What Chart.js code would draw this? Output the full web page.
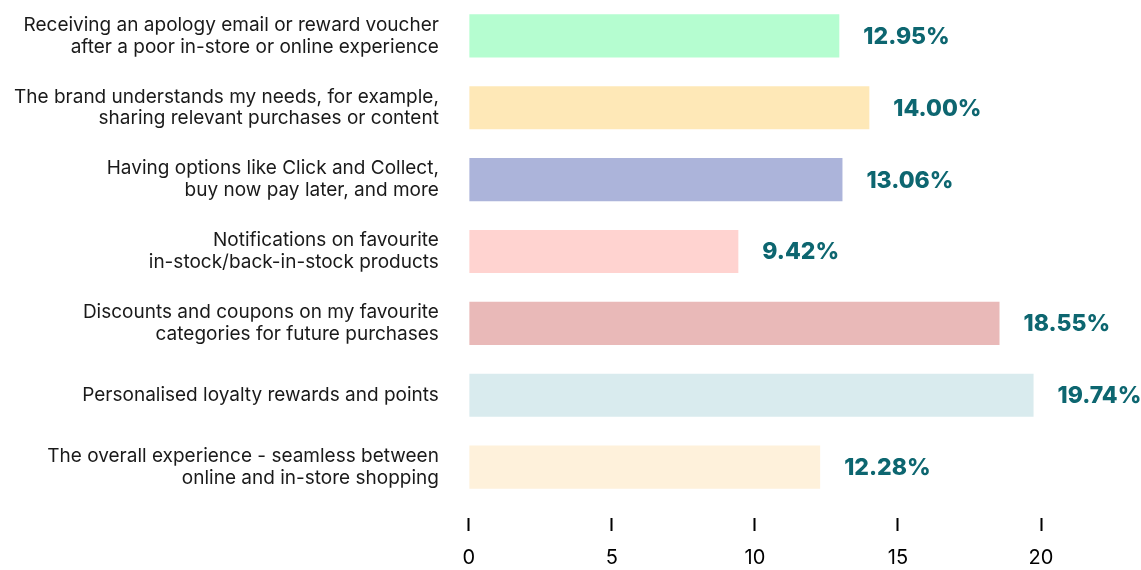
<!DOCTYPE html>
<html>
<head>
<meta charset="utf-8">
<script src="https://cdn.jsdelivr.net/npm/chart.js@4/dist/chart.umd.min.js"></script>
<style>
  html, body { margin: 0; padding: 0; background: #fff; }
  #wrap { width: 1141px; height: 570px; }
</style>
</head>
<body>
<div id="wrap"><canvas id="bar-chart"></canvas></div>
<script>
var labels = [
  ["Receiving an apology email or reward voucher", "after a poor in-store or online experience"],
  ["The brand understands my needs, for example,", "sharing relevant purchases or content"],
  ["Having options like Click and Collect,", "buy now pay later, and more"],
  ["Notifications on favourite", "in-stock/back-in-stock products"],
  ["Discounts and coupons on my favourite", "categories for future purchases"],
  "Personalised loyalty rewards and points",
  ["The overall experience - seamless between", "online and in-store shopping"]
];
var values = [12.95, 14.00, 13.06, 9.42, 18.55, 19.74, 12.28];
var barColors = ["#b5fdd0", "#fee8b7", "#acb4da", "#ffd3d0", "#e9b9b8", "#d9ebee", "#fef1db"];
var tickValues = [0, 5, 10, 15, 20];

// value labels at the end of each bar
var valueLabels = {
  id: 'valueLabels',
  afterDatasetsDraw: function(chart) {
    var ctx = chart.ctx;
    var meta = chart.getDatasetMeta(0);
    ctx.save();
    ctx.font = "800 23px Inter, 'Noto Sans', sans-serif";
    ctx.fillStyle = "#0d6670";
    ctx.textAlign = "left";
    ctx.textBaseline = "middle";
    meta.data.forEach(function(bar, i) {
      ctx.fillText(values[i].toFixed(2) + "%", bar.x + 24, bar.y + 1);
    });
    ctx.restore();
  }
};

new Chart(document.getElementById("bar-chart"), {
  type: 'bar',
  data: {
    labels: labels,
    datasets: [{
      data: values,
      backgroundColor: barColors,
      borderWidth: 0,
      categoryPercentage: 0.6,
      barPercentage: 1
    }]
  },
  options: {
    indexAxis: 'y',
    responsive: true,
    maintainAspectRatio: false,
    animation: false,
    layout: { padding: { top: -3, right: 100, left: 14, bottom: -15 } },
    plugins: {
      legend: { display: false },
      tooltip: { enabled: false }
    },
    scales: {
      x: {
        min: 0,
        max: 20,
        afterBuildTicks: function(scale) {
          scale.ticks = tickValues.map(function(v) { return { value: v }; });
        },
        border: { display: false },
        grid: {
          drawOnChartArea: false,
          drawTicks: true,
          tickLength: 28,
          tickColor: "#000",
          tickWidth: 2,
          tickBorderDash: [0, 15, 13, 100]
        },
        ticks: {
          color: "#000",
          padding: 15,
          font: { family: "Inter, 'Noto Sans', sans-serif", size: 20 }
        }
      },
      y: {
        afterFit: function(scale) {
          // no extra space above/below the category band
          scale.paddingTop = -3;
          scale.paddingBottom = 0;
        },
        border: { display: false },
        grid: {
          display: true,
          drawOnChartArea: false,
          drawTicks: true,
          tickLength: 30,
          tickColor: "rgba(0,0,0,0)"
        },
        ticks: {
          color: "#1a1a1a",
          padding: 0,
          font: { family: "Inter, 'Noto Sans', sans-serif", size: 19, lineHeight: 1.15 }
        }
      }
    }
  },
  plugins: [valueLabels]
});
</script>
</body>
</html>
